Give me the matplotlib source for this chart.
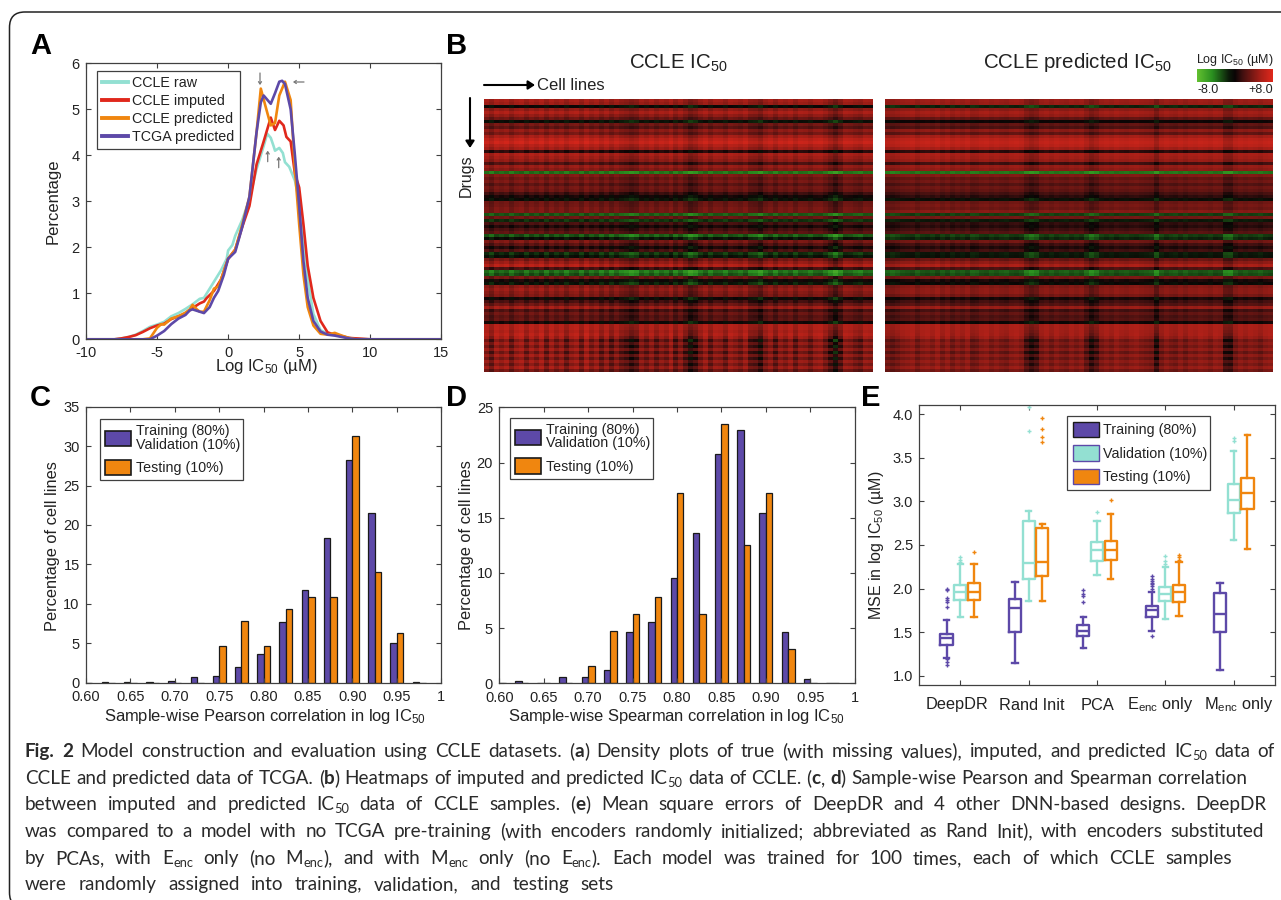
import re
import matplotlib
matplotlib.use("Agg")
import matplotlib.pyplot as plt
import numpy as np
from matplotlib.colors import LinearSegmentedColormap
from matplotlib.patches import FancyBboxPatch, Patch
from matplotlib.lines import Line2D

W, H = 1281, 900
PURPLE, TEAL, ORANGE, RED = "#5d49a8", "#93e0d2", "#f0860f", "#e0281c"
GREY = "#404040"

# ---------- Panel A ----------
raw_x = [-10,-8,-7.5,-7,-6.5,-6,-5.5,-5,-4.5,-4,-3.5,-3,-2.5,-2,-1.7,-1.5,-1,-.5,-.1,0,.3,.5,1,1.5,2,2.5,2.75,3,3.2,3.3,3.6,3.85,4,4.3,4.7,5,5.3,5.6,6,6.5,7,7.5,8,8.5,9,10,15]
raw_y = [0,0,.02,.05,.1,.18,.27,.32,.38,.5,.57,.66,.76,.88,.9,1.0,1.25,1.5,1.75,1.93,2.05,2.25,2.6,3.05,3.7,4.2,4.47,4.38,4.2,4.1,4.16,4.05,3.85,3.75,3.45,3.0,2.2,1.3,.55,.2,.12,.1,.06,.03,.01,0,0]
imp_x = [-10,-8,-7.5,-7,-6.5,-6,-5.5,-5,-4.5,-4,-3.5,-3,-2.5,-2,-1.7,-1.5,-1,-.5,0,.5,1,1.5,2,2.5,3,3.3,3.6,3.9,4.1,4.4,4.7,5,5.3,5.6,6,6.5,7,7.5,8,8.5,9,10,15]
imp_y = [0,0,.02,.05,.09,.16,.24,.3,.34,.44,.5,.56,.68,.78,.82,.9,1.05,1.3,1.75,1.95,2.45,2.9,3.8,4.3,4.82,4.55,4.75,4.65,4.4,4.3,3.6,3.3,2.5,1.6,.9,.4,.15,.1,.07,.03,.02,0,0]
pred_x = [-10,-6,-5.5,-5,-4.7,-4.5,-4,-3.5,-3,-2.7,-2.5,-2.2,-2,-1.7,-1.3,-1,-.7,-.5,0,.5,1,1.5,2,2.3,2.6,3,3.3,3.6,4,4.4,4.7,5,5.3,5.6,6,6.5,7,7.5,8,8.5,9,15]
pred_y = [0,0,.02,.25,.33,.32,.45,.5,.58,.65,.75,.65,.6,.6,.85,1.1,1.15,1.3,1.75,1.95,2.5,3.1,4.5,5.45,5.1,4.65,4.7,5.3,5.6,5.2,3.7,2.5,1.4,.7,.3,.12,.1,.14,.08,.03,0,0]
tcga_x = [-10,-6,-5.5,-5,-4.5,-4,-3.5,-3,-2.7,-2.5,-2,-1.7,-1.3,-1,-.7,-.3,0,.5,1,1.5,2,2.3,2.5,3,3.3,3.6,3.8,4,4.4,4.7,5,5.3,5.6,6,6.5,7,7.5,8,8.5,9,15]
tcga_y = [0,0,0,.08,.18,.33,.45,.53,.63,.65,.6,.57,.7,.9,1.05,1.4,1.75,1.9,2.45,3.1,4.5,5.15,5.3,5.12,5.35,5.6,5.62,5.55,5.0,4.0,2.9,1.7,.9,.4,.17,.1,.08,.05,.02,0,0]
density_labels = ["CCLE raw", "CCLE imputed", "CCLE predicted", "TCGA predicted"]

# ---------- Panels C, D ----------
bin_centers = [.60,.625,.65,.675,.70,.725,.75,.775,.80,.825,.85,.875,.90,.925,.95,.975]
pearson_train = [0,.05,.05,.05,.2,.7,.9,2.0,3.6,7.7,11.8,18.3,28.2,21.5,5.0,.15]
pearson_test = [0,0,0,0,0,0,4.7,7.8,4.7,9.4,10.9,10.9,31.3,14.1,6.25,0]
spearman_train = [0,.2,0,.55,.55,1.25,4.65,5.55,9.5,13.6,20.8,22.9,15.4,4.65,.35,0]
spearman_test = [0,0,0,0,1.55,4.7,6.25,7.8,17.2,6.25,23.45,12.5,17.2,3.1,0,0]
hist_ticks = [.60,.65,.70,.75,.80,.85,.90,.95,1.0]
hist_ticklabels = ["0.60","0.65","0.70","0.75","0.80","0.85","0.90","0.95","1"]

# ---------- Panel E: low whisker, Q1, median, Q3, high whisker, outliers ----------
models = ["DeepDR", "Rand Init", "PCA", "E$_{\\mathrm{enc}}$ only", "M$_{\\mathrm{enc}}$ only"]
mse_train = [
    (1.21,1.36,1.44,1.48,1.64,[1.13,1.16,1.19,1.79,1.85,1.87,1.89,1.98,2.0]),
    (1.15,1.50,1.78,1.88,2.08,[]),
    (1.32,1.46,1.52,1.58,1.67,[1.85,1.92,1.94,1.98]),
    (1.52,1.67,1.75,1.80,1.96,[1.46,2.0,2.03,2.05,2.07,2.09,2.11,2.14]),
    (1.07,1.50,1.71,1.95,2.06,[]),
]
mse_val = [
    (1.67,1.87,1.96,2.04,2.28,[2.30,2.33,2.36]),
    (1.86,2.11,2.29,2.78,2.89,[3.80,4.08]),
    (2.16,2.32,2.44,2.53,2.78,[2.88]),
    (1.65,1.86,1.94,2.02,2.25,[2.28,2.32,2.37]),
    (2.56,2.87,3.01,3.20,3.58,[3.69,3.73]),
]
mse_test = [
    (1.68,1.87,1.96,2.06,2.28,[2.42]),
    (1.86,2.15,2.30,2.70,2.74,[3.68,3.74,3.83,3.96]),
    (2.11,2.33,2.44,2.55,2.85,[3.02]),
    (1.69,1.85,1.96,2.04,2.31,[2.33,2.36,2.39]),
    (2.45,2.91,3.09,3.27,3.76,[]),
]

# ---------- Panel B: drug (row) and cell-line (column) profiles ----------
pred_rows = [.62,.6,-.2,.55,.65,.6,.35,.0,.35,.25,.55,.35,.65,.78,.82,.78,.65,.12,.68,.65,.6,.2,.6,.55,-.5,.5,.35,.42,.28,.4,
             .35,.22,.12,-.08,.4,.45,.4,.52,-.3,.42,-.15,.15,.1,.2,.3,
             -.3,-.2,.42,.2,.08,.2,-.15,-.12,.38,.55,.68,.25,-.4,-.35,.45,.05,-.05,.5,.55,.55,.45,.05,.2,.3,.6,.2,.35,.25,.3,.02,
             .68,.68,.66,.66,.6,.42,.52,.42,.55,.38,.55,.42,.55,.45,.58,.42]
raw_rows = [.65,.6,-.05,.55,.68,.55,.38,-.1,.42,.3,.55,.42,.65,.78,.85,.72,.62,.1,.68,.62,.55,.25,.58,.5,-.5,.48,.38,.45,.3,.42,
            .38,.18,.02,-.1,.38,.4,.45,.45,-.4,.38,-.25,.22,.05,.22,.32,
            -.4,-.1,.45,.28,.05,.25,-.25,-.12,.42,.58,.72,.2,-.5,-.4,.4,.0,-.15,.5,.58,.5,.45,-.02,.2,.38,.62,.22,.38,.28,.32,.0,
            .7,.7,.65,.7,.6,.35,.55,.38,.58,.35,.58,.38,.58,.42,.6,.38]
row_gain = [.3]*45 + [.4]*30 + [.4,.45,.5,.6,.75,.9,.7,.8,.6,.8,.6,.75,.6,.7,.6,.55]
pred_cols = [-.1,-.2,-.1,.0,.05,.1,-.1,.05,.1,.0,.15,-.05,.1,-.1,.05,-.05,.1,-.15,-.1,.05,.1,-.05,.05,-.05,-.1,.05,.1,.0,-.35,
             -.55,-.4,-.05,.05,-.1,.05,-.05,-.1,.05,-.05,.05,-.25,-.55,-.35,-.05,.05,-.05,.1,.0,-.05,.05,.1,.0,-.05,-.1,-.55,
             -.1,.05,-.05,-.1,.05,-.1,.05,.0,.1,.05,-.05,.1,.05,-.45,-.5,-.1,.05,-.05,.05,.0,-.1,.05,.1]
raw_cols = [.1,-.2,.2,.05,.2,-.15,.15,.25,-.1,.2,.0,.25,-.15,.2,-.05,.15,-.2,.1,.2,-.15,.25,-.05,.15,-.2,.1,-.25,.05,-.2,-.3,
            -.5,-.35,.05,-.15,.1,-.2,.05,-.1,.2,-.25,.05,-.3,-.65,-.45,-.1,.15,-.2,.1,.05,-.2,.15,.05,-.1,.15,-.25,-.3,
            -.55,-.1,.1,-.25,.1,-.05,.15,-.2,.1,.05,-.15,.1,.15,-.1,-.4,-.75,-.35,.1,.05,-.1,-.2,.1,.05]
colorbar_stops = [-8.0, 0.0, 8.0]
colorbar_labels = ["-8.0", "+8.0"]

caption_lines = [
    "**Fig. 2** Model construction and evaluation using CCLE datasets. (**a**) Density plots of true (with missing values), imputed, and predicted IC_{50} data of",
    "CCLE and predicted data of TCGA. (**b**) Heatmaps of imputed and predicted IC_{50} data of CCLE. (**c**, **d**) Sample-wise Pearson and Spearman correlation",
    "between imputed and predicted IC_{50} data of CCLE samples. (**e**) Mean square errors of DeepDR and 4 other DNN-based designs. DeepDR",
    "was compared to a model with no TCGA pre-training (with encoders randomly initialized; abbreviated as Rand Init), with encoders substituted",
    "by PCAs, with E_{enc} only (no M_{enc}), and with M_{enc} only (no E_{enc}). Each model was trained for 100 times, each of which CCLE samples",
    "were randomly assigned into training, validation, and testing sets",
]
caption_ends = [1275, 1247, 1267, 1264, 1232, 614]
caption_base = [757, 784, 810, 837, 864, 890]

plt.rcParams.update({
    "font.family": "Liberation Sans", "mathtext.fontset": "custom", "mathtext.rm": "Liberation Sans",
    "mathtext.default": "regular", "axes.linewidth": 0.9, "axes.edgecolor": GREY, "axes.unicode_minus": False,
    "text.color": "#222222", "xtick.color": GREY, "ytick.color": GREY,
    "xtick.labelcolor": "#222222", "ytick.labelcolor": "#222222",
})
fig = plt.figure(figsize=(W/100, H/100), dpi=100)

def mk_axes(x0, y0, x1, y1):
    ax = fig.add_axes([x0/W, 1-y1/H, (x1-x0)/W, (y1-y0)/H])
    return ax

def tx(x, y, s, **kw):
    kw.setdefault("ha", "center"); kw.setdefault("va", "center")
    return fig.text(x/W, 1-y/H, s, **kw)

def style(ax):
    ax.tick_params(direction="in", length=3.5, width=0.8, top=True, right=True, labelsize=10.5, pad=4.5)

def legend_at(ax, handles, labels, x0, y0, x1, y1, linespacing=None, **kw):
    trans = ax.transAxes.inverted()
    (a0, b0) = trans.transform((x0, H-y1)); (a1, b1) = trans.transform((x1, H-y0))
    leg = ax.legend(handles, labels, loc="center", mode="expand", bbox_to_anchor=(a0, b0, a1-a0, b1-b0),
                    borderaxespad=0, fancybox=False, framealpha=1, edgecolor=GREY, fontsize=10.3, **kw)
    leg.get_frame().set_linewidth(0.9)
    if linespacing:
        for t in leg.get_texts():
            t.set_linespacing(linespacing)
    return leg

# frame
fig.add_artist(FancyBboxPatch((9.5/W, -8/H), 1300/W, 896/H, boxstyle="round,pad=0,rounding_size=0.012",
                              transform=fig.transFigure, fc="none", ec="#222222", lw=1.1, mutation_aspect=W/H))

# panel letters
for s, x, y in [("A",30,54),("B",446,54),("C",30,406),("D",446,406),("E",861,406)]:
    tx(x, y, s, ha="left", va="baseline", fontsize=21, fontweight="bold", color="black")

# ---- A
axA = mk_axes(86, 63.3, 441.3, 339.3)
for xs, ys, c in zip((raw_x, imp_x, pred_x, tcga_x), (raw_y, imp_y, pred_y, tcga_y), (TEAL, RED, ORANGE, PURPLE)):
    axA.plot(xs, ys, color=c, lw=1.9, solid_joinstyle="round")
axA.set_xlim(-10, 15); axA.set_ylim(0, 6)
axA.set_xticks([-10,-5,0,5,10,15]); axA.set_yticks(range(7))
style(axA)
h = [Line2D([], [], color=c, lw=2.8) for c in (TEAL, RED, ORANGE, PURPLE)]
legend_at(axA, h, density_labels, 96.7, 72.7, 239.5, 146.7, handlelength=1.85, handletextpad=.3, labelspacing=.28, borderpad=.35)
tx(266, 367, "Log IC$_{50}$ (µM)", fontsize=12)
tx(53, 201, "Percentage", fontsize=12, rotation=90)
for (x0,y0,x1,y1) in [(260,73,260,85),(304,82,293,82),(267.7,161.7,267.7,150.7),(278.7,167.7,278.7,156.7)]:
    fig.add_artist(matplotlib.patches.FancyArrowPatch((x0/W,1-y0/H),(x1/W,1-y1/H),transform=fig.transFigure,
                   arrowstyle="->,head_length=1.6,head_width=1.1", color="#777777", lw=.9, shrinkA=0, shrinkB=0))

# ---- C, D
def hist(ax, train, test, ymax, yt):
    c = np.array(bin_centers); w = .0073
    ax.bar(c-w/2, train, w, color=PURPLE, edgecolor="#1a1a1a", lw=.9)
    ax.bar(c+w/2, test, w, color=ORANGE, edgecolor="#1a1a1a", lw=.9)
    ax.set_xlim(.6, 1); ax.set_ylim(0, ymax)
    ax.set_xticks(hist_ticks); ax.set_xticklabels(hist_ticklabels); ax.set_yticks(yt)
    style(ax)
    ax.tick_params(axis="x", pad=5.5)

hl = [Patch(fc=PURPLE, ec="#1a1a1a", lw=1.2), Patch(fc=ORANGE, ec="#1a1a1a", lw=1.2)]
ll = ["Training (80%)\nValidation (10%)", "Testing (10%)"]
axC = mk_axes(86, 406.7, 441.3, 682.7)
hist(axC, pearson_train, pearson_test, 35, range(0,36,5))
legend_at(axC, hl, ll, 100, 420.7, 243, 478.7, handlelength=1.85, handleheight=1.3, handletextpad=.3, labelspacing=.55, borderpad=.35, linespacing=.95)
tx(265, 716, "Sample-wise Pearson correlation in log IC$_{50}$", fontsize=11.9)
tx(53, 546, "Percentage of cell lines", fontsize=11.8, rotation=90)
axD = mk_axes(499.3, 407.3, 854.7, 683.3)
hist(axD, spearman_train, spearman_test, 25, range(0,26,5))
legend_at(axD, hl, ll, 510, 419.3, 653, 477.7, handlelength=1.85, handleheight=1.3, handletextpad=.3, labelspacing=.55, borderpad=.35, linespacing=.95)
tx(676, 716, "Sample-wise Spearman correlation in log IC$_{50}$", fontsize=11.9)
tx(466, 545, "Percentage of cell lines", fontsize=11.8, rotation=90)

# ---- E
axE = mk_axes(919.3, 405.3, 1274.7, 684.7)
for series, off, c in ((mse_train,-.2,PURPLE),(mse_val,0,TEAL),(mse_test,.2,ORANGE)):
    stats = [dict(whislo=s[0], q1=s[1], med=s[2], q3=s[3], whishi=s[4], fliers=s[5]) for s in series]
    pos = np.arange(1, 6) + off
    ls = dict(color=c, lw=1.7)
    axE.bxp(stats, positions=pos, widths=.18, capwidths=.08, boxprops=ls, medianprops=ls, whiskerprops=ls, capprops=ls,
            flierprops=dict(marker="+", ms=3.5, mec=c, mew=1.0), manage_ticks=False)
axE.set_xlim(.4, 5.6); axE.set_ylim(.9, 4.1)
axE.set_xticks(range(1,6)); axE.set_xticklabels([""]*5)
axE.set_yticks([1,1.5,2,2.5,3,3.5,4]); axE.set_yticklabels(["1.0","1.5","2.0","2.5","3.0","3.5","4.0"])
style(axE)
for x, s in zip((957, 1032, 1098, 1160, 1239), models):
    tx(x, 705, s, fontsize=11.8)
tx(877, 545, "MSE in log IC$_{50}$ (µM)", fontsize=11.5, rotation=90)
hE = [Patch(fc=PURPLE, ec="#1a1a1a", lw=1), Patch(fc=TEAL, ec=PURPLE, lw=1), Patch(fc=ORANGE, ec=PURPLE, lw=1)]
legend_at(axE, hE, ["Training (80%)","Validation (10%)","Testing (10%)"], 1067, 417.7, 1210, 488.3,
          handlelength=1.85, handleheight=1.3, handletextpad=.3, labelspacing=.55, borderpad=.4)

# ---- B
cmap = LinearSegmentedColormap.from_list("gkr", [(0,"#62c030"),(.2,"#2a8f20"),(.42,"#0c1a0a"),(.5,"#0a0505"),(.6,"#401010"),(.85,"#ac2018"),(1,"#e0281c")])
gain = np.array(row_gain)[:, None]
for (x0, x1, rows, cols) in ((484, 872.7, raw_rows, raw_cols), (885, 1273, pred_rows, pred_cols)):
    ax = mk_axes(x0, 99, x1, 372)
    ax.imshow(np.array(rows)[:, None] + gain*np.array(cols)[None, :], cmap=cmap, vmin=-1, vmax=1,
              aspect="auto", interpolation="nearest")
    ax.axis("off")
tx(678, 63, "CCLE IC$_{50}$", fontsize=14.8)
tx(1077, 63, "CCLE predicted IC$_{50}$", fontsize=14.8)
tx(537, 85, "Cell lines", ha="left", fontsize=12)
tx(466, 176, "Drugs", rotation=90, fontsize=11.5)
for a, b in (((484,85),(535,85)),((470,98),(470,148))):
    fig.add_artist(matplotlib.patches.FancyArrowPatch((a[0]/W,1-a[1]/H),(b[0]/W,1-b[1]/H),transform=fig.transFigure,
                   arrowstyle="-|>,head_length=4,head_width=2.6", color="black", lw=1.5, shrinkA=0, shrinkB=0))
axK = mk_axes(1197, 69.3, 1273, 82)
axK.imshow(np.linspace(colorbar_stops[0], colorbar_stops[2], 200)[None, :], cmap=cmap, vmin=-8, vmax=8, aspect="auto")
axK.axis("off")
tx(1235, 60, "Log IC$_{50}$ (µM)", fontsize=9)
tx(1197, 90, colorbar_labels[0], ha="left", fontsize=9)
tx(1273, 90, colorbar_labels[1], ha="right", fontsize=9)

# ---- caption, justified to the reference's line ends
fig.canvas.draw()
rend = fig.canvas.get_renderer()
CF = "Lato"; CS = 13.6; CC = "#2a2a2a"; CX = 25
def parts(word, bold):
    out = []
    for p in re.split(r"(\*\*|_\{[^}]*\})", word):
        if p == "**": bold[0] = not bold[0]
        elif p.startswith("_{"): out.append((p[2:-1], False, True))
        elif p: out.append((p, bold[0], False))
    return out
def seg_w(s, b, sub):
    t = fig.text(0, 0, s+"|", fontfamily=CF, fontsize=CS*(.68 if sub else 1), fontweight="bold" if b else "normal")
    w = t.get_window_extent(rend).width
    t.set_text("|"); w -= t.get_window_extent(rend).width
    t.remove()
    return w
for line, end, base in zip(caption_lines, caption_ends, caption_base):
    bold = [False]
    words = [parts(w, bold) for w in line.split(" ")]
    widths = [sum(seg_w(*p) for p in w) for w in words]
    gap = (end - CX - sum(widths)) / (len(words) - 1)
    x = CX
    for w, wd in zip(words, widths):
        cx = x
        for s, b, sub in w:
            tx(cx, base + (3 if sub else 0), s, ha="left", va="baseline", fontfamily=CF, color=CC,
               fontsize=CS*(.68 if sub else 1), fontweight="bold" if b else "normal")
            cx += seg_w(s, b, sub)
        x += wd + gap

fig.savefig("out.png", dpi=100)
